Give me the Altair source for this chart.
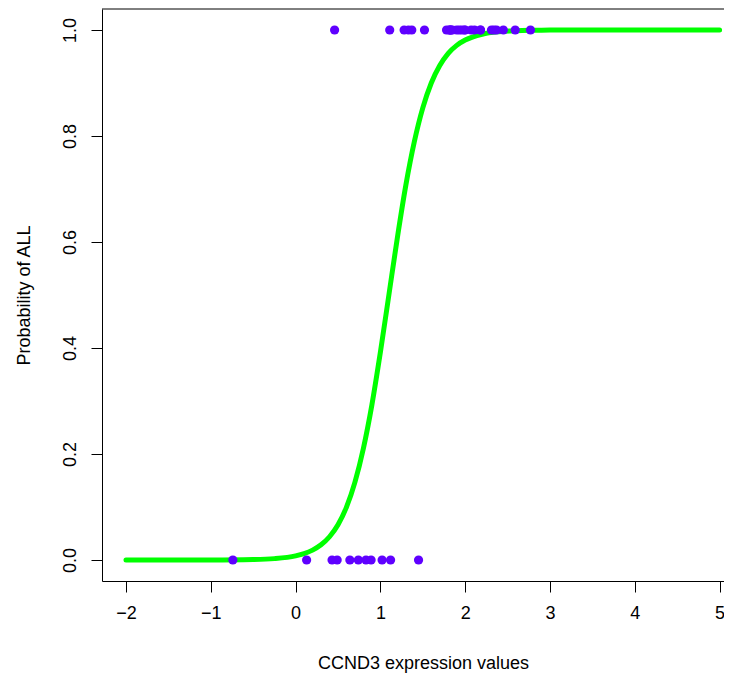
import altair as alt
import pandas as pd

# CCND3 expression values
all_vals = [2.11, 1.52, 1.96, 2.34, 1.85, 1.99, 2.07, 1.82, 2.18, 1.81, 2.45, 1.90, 2.77,
            1.33, 2.59, 1.93, 1.11, 1.28, 1.83, 1.78, 0.46, 2.18, 2.31, 2.00, 1.37, 2.37, 1.83]
aml_vals = [0.89, 1.45, 0.43, 0.83, 0.64, 1.02, 0.13, -0.74, 0.74, 0.49, 1.12]

# fitted probability curve
curve_x = [-2, -1.5, -1, -0.5, -0.25, 0, 0.1, 0.2, 0.3, 0.4, 0.5, 0.6, 0.7, 0.8, 0.9, 1.0,
           1.1, 1.2, 1.3, 1.4, 1.5, 1.6, 1.7, 1.8, 1.9, 2.0, 2.2, 2.4, 2.6, 2.8, 3.0, 3.5,
           4.0, 4.5, 5.0]
curve_p = [0.0, 0.00001, 0.0001, 0.0009, 0.0026, 0.0078, 0.0121, 0.0187, 0.0287, 0.0439,
           0.0665, 0.0997, 0.147, 0.211, 0.293, 0.392, 0.500, 0.608, 0.707, 0.789, 0.853,
           0.900, 0.933, 0.956, 0.971, 0.981, 0.992, 0.9967, 0.9986, 0.9994, 0.9998, 1.0,
           1.0, 1.0, 1.0]

x_ticks = [-2, -1, 0, 1, 2, 3, 4, 5]
y_ticks = [0.0, 0.2, 0.4, 0.6, 0.8, 1.0]

pts = pd.DataFrame({
    "x": all_vals + aml_vals,
    "y": [1.0] * len(all_vals) + [0.0] * len(aml_vals),
})
curve = pd.DataFrame({"x": curve_x, "p": curve_p})

W, H = 622, 572
FONT = "Liberation Sans"
FS = 18

xscale = alt.Scale(domain=[-2.283, 5.052], nice=False, zero=False)
yscale = alt.Scale(domain=[-0.0396, 1.0396], nice=False, zero=False)

xaxis = alt.Axis(values=x_ticks, format="d", title="CCND3 expression values", grid=False,
                 domainColor="black", domainWidth=1, tickColor="black", tickWidth=1,
                 tickSize=11, labelPadding=12, labelFont=FONT, labelFontSize=FS,
                 labelColor="black", labelFlush=False, labelOverlap=False,
                 titleFont=FONT, titleFontSize=FS, titleFontWeight="normal",
                 titleColor="black", titleX=321, titleY=87, titleAlign="center",
                 titleBaseline="alphabetic")
yaxis = alt.Axis(values=y_ticks, format=".1f", title="Probability of ALL", grid=False,
                 domainColor="black", domainWidth=1, tickColor="black", tickWidth=1,
                 tickSize=11, labelPadding=12, labelFont=FONT, labelFontSize=FS,
                 labelColor="black", labelAngle=270, labelAlign="center",
                 labelBaseline="bottom", labelFlush=False, labelOverlap=False,
                 titleFont=FONT, titleFontSize=FS, titleFontWeight="normal",
                 titleColor="black", titleAngle=270, titleX=-78, titleY=286,
                 titleAlign="center", titleBaseline="middle")

line = alt.Chart(curve).mark_line(color="#00FF00", strokeWidth=5, interpolate="monotone",
                                  strokeCap="round").encode(
    x=alt.X("x:Q", scale=xscale, axis=xaxis),
    y=alt.Y("p:Q", scale=yscale, axis=yaxis),
)

points = alt.Chart(pts).mark_circle(size=85, color="#5F00FF", opacity=1).encode(
    x=alt.X("x:Q", scale=xscale),
    y=alt.Y("y:Q", scale=yscale),
)

top_border = alt.Chart(pd.DataFrame({"a": [0]})).mark_rule(color="black", strokeWidth=1).encode(
    x=alt.value(0), x2=alt.value(W), y=alt.value(0)
)

chart = alt.layer(line, points, top_border).properties(
    width=W, height=H,
    autosize=alt.AutoSizeParams(type="none"),
    padding={"left": 94, "top": 1, "right": 0, "bottom": 92},
).configure_view(stroke=None)

chart.save("out.html", embed_options={"renderer": "svg", "actions": False})
